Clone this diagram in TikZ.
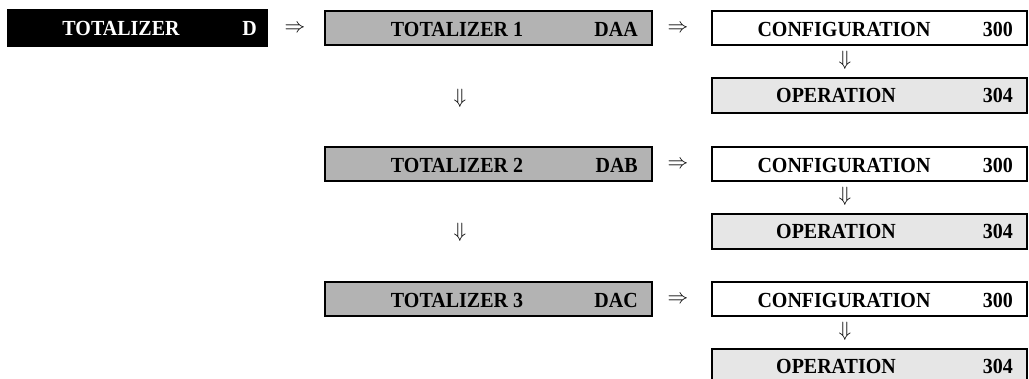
\documentclass[tikz,border=0pt]{standalone}
\usepackage{fontspec}
\setmainfont{Liberation Serif}[FakeStretch=0.93]
\definecolor{totgrey}{HTML}{B3B3B3}
\definecolor{opgrey}{HTML}{E6E6E6}
\begin{document}
\begin{tikzpicture}[x=1bp,y=-1bp,
  boxbase/.style={draw=black, line width=1.8bp, rectangle, inner sep=0pt, minimum height=34bp},
  blackbox/.style={boxbase, fill=black, minimum width=259bp, minimum height=36bp},
  totbox/.style={boxbase, fill=totgrey, minimum width=327bp},
  cfgbox/.style={boxbase, fill=white, minimum width=315bp},
  opbox/.style={boxbase, fill=opgrey, minimum width=315bp, minimum height=35bp},
  lbl/.style={inner sep=0pt, font=\fontsize{21.5bp}{23bp}\selectfont\bfseries, anchor=base},
  lblr/.style={lbl, anchor=base east},
  arr/.style={inner sep=0pt, font=\fontsize{20bp}{22bp}\selectfont},
]
\useasboundingbox (0,0) rectangle (1029,378);
% left black box
\node[blackbox] (menu) at (137.5,28) {};
\node[lbl, text=white] (menuname) at (121,35.5) {TOTALIZER};
\node[lblr, text=white] (menucode) at (257,35.5) {D};
\node[arr] (a0) at (295,29) {$\Rightarrow$};
% rows
\foreach \r/\n/\c in {0/1/DAA, 136/2/DAB, 271/3/DAC}{
  \node[totbox] (t\n) at (488.5,28+\r) {};
  \node[lbl] (tn\n) at (457,36+\r) {TOTALIZER \n};
  \node[lblr] (tc\n) at (638,36+\r) {\c};
  \node[arr] (ar\n) at (678,29+\r) {$\Rightarrow$};
  \node[cfgbox] (c\n) at (869.5,28+\r) {};
  \node[lbl] (cn\n) at (844,36+\r) {CONFIGURATION};
  \node[lblr] (cc\n) at (1013,36+\r) {300};
  \node[arr] (ad\n) at (845,60+\r) {$\Downarrow$};
  \node[opbox] (o\n) at (869.5,95.5+\r) {};
  \node[lbl] (on\n) at (836,102.5+\r) {OPERATION};
  \node[lblr] (oc\n) at (1013,102.5+\r) {304};
}
\node[arr] (tdown1) at (460,98) {$\Downarrow$};
\node[arr] (tdown2) at (460,232) {$\Downarrow$};
\end{tikzpicture}
\end{document}
